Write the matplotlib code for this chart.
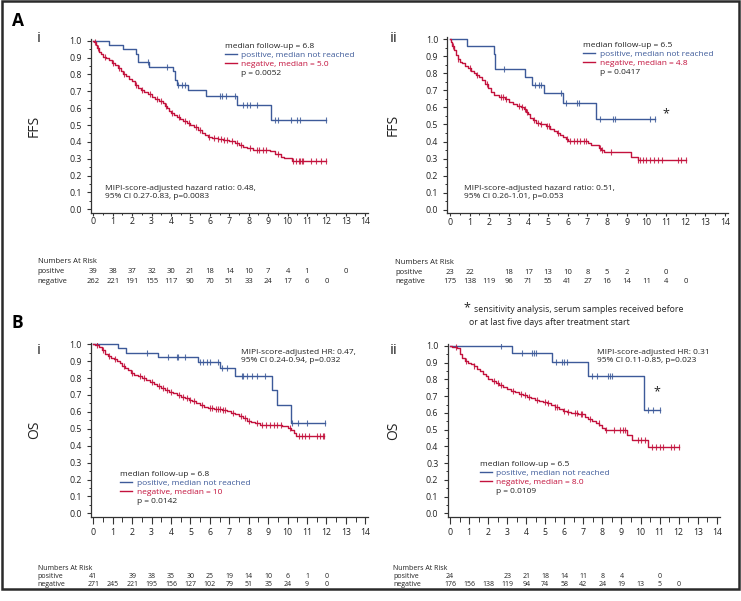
import numpy as np
import matplotlib
matplotlib.use("Agg")
import matplotlib.pyplot as plt
from matplotlib.lines import Line2D
from matplotlib.patches import Rectangle
from matplotlib.transforms import blended_transform_factory

plt.rcParams['font.family'] = ['Open Sans', 'DejaVu Sans']

W, H = 741, 601
BLUE = '#3d5a99'
RED = '#c3123d'
AXC = '#333333'
TXT = '#222222'
FS = 6.0

# ---------------- data ----------------
years = list(range(0, 15))

# Panel A i (FFS)
ai_pos_t = [0.82, 1.55, 2.22, 2.30, 2.88, 4.12, 4.22, 4.32, 4.88, 5.78, 7.38, 9.15]
ai_pos_s = [0.974, 0.949, 0.923, 0.872, 0.846, 0.82, 0.765, 0.74, 0.706, 0.67, 0.62, 0.53]
ai_pos_c = [2.8, 3.81, 4.37, 4.58, 4.72, 6.52, 6.6, 6.81, 7.29, 7.72, 7.89, 8.06, 8.4,
            9.35, 9.49, 10.2, 10.46, 10.63, 11.97]
ai_neg_t = [0.05, 0.12, 0.2, 0.3, 0.4, 0.5, 0.65, 0.8, 0.95, 1.1, 1.25, 1.4, 1.55, 1.7, 1.85,
            2.0, 2.15, 2.3, 2.45, 2.6, 2.8, 3.0, 3.2, 3.4, 3.6, 3.7, 3.8, 3.9, 4.0, 4.15, 4.3,
            4.45, 4.6, 4.8, 5.0, 5.2, 5.4, 5.6, 5.75, 5.9, 6.1, 6.4, 6.7, 7.0, 7.3, 7.5, 7.7,
            7.9, 8.2, 9.1, 9.35, 9.65, 9.8, 10.25]
ai_neg_s = [0.99, 0.975, 0.955, 0.935, 0.92, 0.905, 0.895, 0.883, 0.868, 0.855, 0.84, 0.82,
            0.805, 0.79, 0.773, 0.76, 0.737, 0.72, 0.708, 0.698, 0.683, 0.668, 0.655, 0.645,
            0.632, 0.615, 0.6, 0.585, 0.572, 0.558, 0.545, 0.533, 0.522, 0.51, 0.5, 0.488,
            0.472, 0.455, 0.44, 0.43, 0.423, 0.417, 0.41, 0.403, 0.393, 0.38, 0.37, 0.365,
            0.352, 0.345, 0.328, 0.312, 0.305, 0.288]
ai_neg_c = [0.1, 0.25, 0.6, 1.0, 1.3, 1.6, 2.2, 2.5, 2.9, 3.3, 3.5, 3.75, 4.05, 4.4, 4.7, 4.9,
            5.3, 5.5, 5.95, 6.2, 6.4, 6.55, 6.75, 6.9, 7.15, 7.4, 7.6, 8.05, 8.4, 8.55, 8.75,
            8.9, 9.5, 10.3, 10.45, 10.6, 10.65, 10.75, 10.8, 11.2, 11.45, 11.7, 12.0]
ai_pos_risk = [39, 38, 37, 32, 30, 21, 18, 14, 10, 7, 4, 1, None, 0]
ai_neg_risk = [262, 221, 191, 155, 117, 90, 70, 51, 33, 24, 17, 6, 0]

# Panel A ii (FFS, sensitivity)
aii_pos_t = [0.85, 2.22, 2.30, 3.83, 4.17, 4.78, 5.75, 7.42]
aii_pos_s = [0.957, 0.913, 0.826, 0.78, 0.733, 0.685, 0.624, 0.535]
aii_pos_c = [2.75, 4.35, 4.55, 4.65, 5.65, 5.9, 6.45, 6.55, 7.65, 8.3, 8.4, 10.2, 10.45]
aii_neg_t = [0.05, 0.12, 0.2, 0.3, 0.4, 0.5, 0.6, 0.75, 0.9, 1.05, 1.2, 1.35, 1.5, 1.65, 1.8,
             1.95, 2.1, 2.25, 2.5, 2.8, 3.0, 3.2, 3.4, 3.6, 3.75, 3.85, 3.95, 4.1, 4.25, 4.4,
             4.6, 4.9, 5.1, 5.3, 5.45, 5.6, 5.75, 5.9, 6.0, 7.05, 7.2, 7.6, 7.7, 7.85, 9.2, 9.55]
aii_neg_s = [0.985, 0.96, 0.935, 0.905, 0.885, 0.868, 0.858, 0.845, 0.832, 0.815, 0.8, 0.79,
             0.775, 0.758, 0.735, 0.712, 0.692, 0.672, 0.66, 0.648, 0.632, 0.617, 0.61, 0.6,
             0.588, 0.575, 0.56, 0.54, 0.525, 0.51, 0.5, 0.49, 0.475, 0.46, 0.448, 0.437,
             0.425, 0.418, 0.405, 0.39, 0.38, 0.36, 0.35, 0.34, 0.31, 0.29]
aii_neg_c = [0.15, 0.4, 1.0, 1.4, 1.9, 2.6, 2.7, 2.85, 3.5, 3.65, 3.8, 3.9, 4.3, 4.5, 4.65,
             4.95, 5.05, 5.5, 5.95, 6.1, 6.3, 6.45, 6.6, 6.8, 6.95, 7.65, 7.75, 8.2, 9.55, 9.7,
             9.85, 10.0, 10.2, 10.4, 10.6, 10.8, 11.6, 11.75, 12.0]
aii_pos_risk = [23, 22, None, 18, 17, 13, 10, 8, 5, 2, None, 0]
aii_neg_risk = [175, 138, 119, 96, 71, 55, 41, 27, 16, 14, 11, 4, 0]

# Panel B i (OS)
bi_pos_t = [1.25, 1.68, 3.31, 5.4, 6.52, 7.29, 9.18, 9.47, 10.17]
bi_pos_s = [0.976, 0.95, 0.923, 0.893, 0.857, 0.81, 0.73, 0.64, 0.535]
bi_pos_c = [2.74, 3.86, 4.29, 4.37, 4.72, 5.49, 5.66, 5.83, 6.0, 6.43, 6.6, 6.86, 7.63, 7.72,
            7.89, 8.15, 8.4, 8.83, 10.24, 10.55, 10.98, 11.92]
bi_neg_t = [0.1, 0.3, 0.45, 0.6, 0.75, 0.9, 1.05, 1.2, 1.35, 1.5, 1.65, 1.8, 1.95, 2.1, 2.3,
            2.5, 2.7, 2.9, 3.1, 3.3, 3.5, 3.7, 3.9, 4.1, 4.3, 4.5, 4.7, 4.9, 5.1, 5.3, 5.5,
            5.7, 5.9, 6.2, 6.6, 6.9, 7.1, 7.3, 7.5, 7.7, 7.9, 8.1, 8.3, 8.6, 9.7, 10.0, 10.2,
            10.35, 10.45]
bi_neg_s = [0.995, 0.985, 0.965, 0.945, 0.93, 0.92, 0.912, 0.9, 0.888, 0.872, 0.858, 0.845,
            0.832, 0.82, 0.81, 0.8, 0.79, 0.776, 0.766, 0.755, 0.742, 0.732, 0.72, 0.71,
            0.698, 0.69, 0.68, 0.672, 0.665, 0.652, 0.638, 0.628, 0.622, 0.615, 0.612, 0.605,
            0.595, 0.585, 0.575, 0.562, 0.548, 0.54, 0.535, 0.525, 0.515, 0.505, 0.49, 0.475,
            0.455]
bi_neg_c = [0.2, 0.5, 0.8, 1.1, 1.6, 2.0, 2.4, 2.6, 3.0, 3.4, 3.6, 3.8, 4.0, 4.4, 4.6, 4.8,
            5.0, 5.2, 5.6, 6.0, 6.1, 6.3, 6.4, 6.5, 6.7, 6.8, 7.2, 7.6, 7.8, 8.0, 8.4, 8.7,
            8.9, 9.1, 9.3, 9.45, 9.65, 10.15, 10.6, 10.75, 10.9, 11.1, 11.5, 11.65, 11.8, 11.9]
bi_pos_risk = [41, None, 39, 38, 35, 30, 25, 19, 14, 10, 6, 1, 0]
bi_neg_risk = [271, 245, 221, 195, 156, 127, 102, 79, 51, 35, 24, 9, 0]

# Panel B ii (OS, sensitivity)
bii_pos_t = [3.27, 5.37, 7.26, 10.2]
bii_pos_s = [0.957, 0.903, 0.82, 0.615]
bii_pos_c = [2.68, 3.8, 4.32, 4.43, 4.5, 5.55, 5.86, 6.0, 6.12, 7.44, 7.7, 8.31, 8.4, 8.49,
             10.41, 10.67, 11.02]
bii_neg_t = [0.1, 0.36, 0.52, 0.62, 0.78, 0.93, 1.09, 1.25, 1.4, 1.56, 1.71, 1.87, 2.02, 2.18,
             2.39, 2.59, 2.8, 3.01, 3.22, 3.42, 3.63, 3.84, 4.05, 4.25, 4.46, 4.67, 4.88, 5.08,
             5.29, 5.5, 5.71, 5.91, 6.12, 6.33, 6.74, 7.06, 7.26, 7.47, 7.68, 7.83, 7.99, 8.15,
             9.27, 9.54, 10.41]
bii_neg_s = [0.995, 0.985, 0.955, 0.93, 0.91, 0.9, 0.89, 0.878, 0.865, 0.85, 0.835, 0.82,
             0.805, 0.79, 0.78, 0.768, 0.755, 0.742, 0.732, 0.725, 0.715, 0.705, 0.695, 0.687,
             0.68, 0.673, 0.666, 0.658, 0.648, 0.635, 0.622, 0.612, 0.605, 0.598, 0.592,
             0.575, 0.562, 0.55, 0.54, 0.525, 0.51, 0.495, 0.468, 0.44, 0.395]
bii_neg_c = [0.3, 0.85, 1.25, 2.3, 2.5, 2.7, 3.3, 3.75, 3.95, 4.15, 4.55, 5.0, 5.15, 5.5, 5.6,
             6.0, 6.2, 6.55, 6.65, 6.85, 6.95, 7.35, 7.8, 8.2, 8.6, 8.9, 9.1, 9.2, 9.85, 10.05,
             10.25, 10.6, 10.8, 11.0, 11.2, 11.6, 11.75, 12.0]
bii_pos_risk = [24, None, None, 23, 21, 18, 14, 11, 8, 4, None, 0]
bii_neg_risk = [176, 156, 138, 119, 94, 74, 58, 42, 24, 19, 13, 5, 0]

# ---------------- figure ----------------
fig = plt.figure(figsize=(W / 100, H / 100), dpi=100)
fig.patch.set_facecolor('white')


def px_axes(left, right, top, bottom):
    ax = fig.add_axes([left / W, 1 - bottom / H, (right - left) / W, (bottom - top) / H])
    ax._px = (left, right)
    return ax


def draw_curve(ax, t, s, c, color):
    t = np.asarray(t, float)
    s = np.asarray(s, float)
    c = np.asarray(c, float)
    end = max(c.max(), t.max())
    xs = np.r_[0.0, t, end]
    ys = np.r_[1.0, s, s[-1]]
    ax.step(xs, ys, where='post', color=color, lw=1.0, zorder=3)
    idx = np.searchsorted(t, c, side='right')
    cy = np.r_[1.0, s][idx]
    ax.plot(c, cy, ls='none', marker='|', ms=4.5, mew=0.8, color=color, alpha=0.85, zorder=4)


def style_axes(ax, ylabel, ylabel_px, xtick_len, xpad):
    ax.set_xlim(-0.13, 14.15)
    ax.set_ylim(-0.02, 1.01)
    for sp in ['top', 'right']:
        ax.spines[sp].set_visible(False)
    for sp in ['left', 'bottom']:
        ax.spines[sp].set_color(AXC)
        ax.spines[sp].set_linewidth(0.9)
    ax.set_xticks(years)
    ax.set_xticks(np.arange(0.5, 14.5, 1.0), minor=True)
    ax.set_yticks(np.round(np.arange(0, 1.01, 0.1), 1))
    ax.set_yticks(np.arange(0.05, 1.0, 0.1), minor=True)
    ax.set_yticklabels([f'{v:.1f}' for v in np.arange(0, 1.01, 0.1)])
    ax.tick_params(axis='x', which='major', length=xtick_len, width=0.8, color=AXC,
                   labelsize=6.3, pad=xpad, labelcolor=TXT)
    ax.tick_params(axis='x', which='minor', length=xtick_len * 0.7, width=0.7, color=AXC)
    ax.tick_params(axis='y', which='major', length=2.6, width=0.8, color=AXC,
                   labelsize=6.3, pad=4.0, labelcolor=TXT)
    ax.tick_params(axis='y', which='minor', length=1.6, width=0.7, color=AXC)
    ax.set_ylabel(ylabel, fontsize=10, color=TXT, va='center')
    left, right = ax._px
    ax.yaxis.set_label_coords((ylabel_px - left) / (right - left), 0.5)


def km_legend(ax, x, y, fu, neg, p):
    handles = [Line2D([], [], color=BLUE, lw=1.0), Line2D([], [], color=RED, lw=1.0),
               Line2D([], [], color='none')]
    labels = ['positive, median not reached', neg, p]
    leg = ax.legend(handles, labels, title=fu, loc='upper left', bbox_to_anchor=(x, y),
                    bbox_transform=ax.transData, frameon=False, fontsize=FS,
                    title_fontsize=FS, handlelength=1.45, handletextpad=0.5,
                    labelspacing=0.12, borderpad=0, borderaxespad=0, alignment='left',
                    labelcolor=[BLUE, RED, TXT])
    leg.get_title().set_color(TXT)
    return leg


def risk_table(ax, xlabel_px, ys_px, pos, neg, fs):
    tr = blended_transform_factory(ax.transData, fig.transFigure)
    for txt, ypx in zip(['Numbers At Risk', 'positive', 'negative'], ys_px):
        fig.text(xlabel_px / W, 1 - ypx / H, txt, fontsize=fs, va='center', ha='left',
                 color=TXT)
    for row, ypx in ((pos, ys_px[1]), (neg, ys_px[2])):
        for yr, v in zip(years, row):
            if v is None:
                continue
            ax.text(yr, 1 - ypx / H, str(v), transform=tr, fontsize=fs, ha='center',
                    va='center', color=TXT, clip_on=False)


# Panel A i
ax1 = px_axes(90.8, 368.2, 39.0, 212.7)
draw_curve(ax1, ai_pos_t, ai_pos_s, ai_pos_c, BLUE)
draw_curve(ax1, ai_neg_t, ai_neg_s, ai_neg_c, RED)
style_axes(ax1, 'FFS', 34.3, 2.2, 1.2)
km_legend(ax1, 6.79, 0.985, 'median follow-up = 6.8', 'negative, median = 5.0', 'p = 0.0052')
ax1.text(0.62, 0.10, 'MIPI-score-adjusted hazard ratio: 0.48,\n95% CI 0.27-0.83, p=0.0083',
         fontsize=FS, va='center', ha='left', linespacing=1.2, color=TXT)
risk_table(ax1, 37.7, (261.7, 271.7, 281.7), ai_pos_risk, ai_neg_risk, 5.5)

# Panel A ii
ax2 = px_axes(447.4, 727.9, 37.3, 213.4)
draw_curve(ax2, aii_pos_t, aii_pos_s, aii_pos_c, BLUE)
draw_curve(ax2, aii_neg_t, aii_neg_s, aii_neg_c, RED)
style_axes(ax2, 'FFS', 393.3, 2.2, 1.2)
km_legend(ax2, 6.79, 0.98, 'median follow-up = 6.5', 'negative, median = 4.8', 'p = 0.0417')
ax2.text(0.73, 0.104, 'MIPI-score-adjusted hazard ratio: 0.51,\n95% CI 0.26-1.01, p=0.053',
         fontsize=FS, va='center', ha='left', linespacing=1.2, color=TXT)
ax2.text(11.0, 0.565, '*', fontsize=9, ha='center', va='center', color=TXT)
risk_table(ax2, 395, (262.3, 272.3, 281.7), aii_pos_risk, aii_neg_risk, 5.5)

# Panel B i
ax3 = px_axes(90.8, 368.2, 342.6, 516.7)
draw_curve(ax3, bi_pos_t, bi_pos_s, bi_pos_c, BLUE)
draw_curve(ax3, bi_neg_t, bi_neg_s, bi_neg_c, RED)
style_axes(ax3, 'OS', 34.3, 5.0, 3.0)
km_legend(ax3, 1.39, 0.25, 'median follow-up = 6.8', 'negative, median = 10', 'p = 0.0142')
ax3.text(7.6, 0.93, 'MIPI-score-adjusted HR: 0.47,\n95% CI 0.24-0.94, p=0.032',
         fontsize=FS, va='center', ha='left', linespacing=1.2, color=TXT)
risk_table(ax3, 37.7, (569, 577, 585), bi_pos_risk, bi_neg_risk, 5.0)

# Panel B ii
ax4 = px_axes(447.5, 719.6, 344.3, 516.6)
draw_curve(ax4, bii_pos_t, bii_pos_s, bii_pos_c, BLUE)
draw_curve(ax4, bii_neg_t, bii_neg_s, bii_neg_c, RED)
style_axes(ax4, 'OS', 393.3, 5.0, 3.0)
km_legend(ax4, 1.57, 0.31, 'median follow-up = 6.5', 'negative, median = 8.0', 'p = 0.0109')
ax4.text(7.7, 0.936, 'MIPI-score-adjusted HR: 0.31\n95% CI 0.11-0.85, p=0.023',
         fontsize=FS, va='center', ha='left', linespacing=1.2, color=TXT)
ax4.text(10.85, 0.727, '*', fontsize=9, ha='center', va='center', color=TXT)
risk_table(ax4, 393, (569, 577, 585), bii_pos_risk, bii_neg_risk, 5.0)

# Footnote
fig.text(466.7 / W, 1 - 308 / H, '*', fontsize=9, ha='center', va='center', color=TXT)
fig.text(474.3 / W, 1 - 310 / H, 'sensitivity analysis, serum samples received before',
         fontsize=6.3, ha='left', va='center', color=TXT)
fig.text(469.3 / W, 1 - 322.7 / H, 'or at last five days after treatment start',
         fontsize=6.3, ha='left', va='center', color=TXT)

# Panel labels
fig.text(18 / W, 1 - 21 / H, 'A', fontsize=12.5, fontweight='bold', ha='center', va='center')
fig.text(17 / W, 1 - 323 / H, 'B', fontsize=12.5, fontweight='bold', ha='center', va='center')
fig.text(38.3 / W, 1 - 38 / H, 'i', fontsize=11, ha='center', va='center', color=TXT)
fig.text(394 / W, 1 - 38 / H, 'ii', fontsize=11, ha='center', va='center', color=TXT)
fig.text(38.3 / W, 1 - 350 / H, 'i', fontsize=11, ha='center', va='center', color=TXT)
fig.text(394 / W, 1 - 350 / H, 'ii', fontsize=11, ha='center', va='center', color=TXT)

# Outer frame
fig.add_artist(Rectangle((1.5 / W, 1 - 589 / H), (739 - 1.5) / W, (589 - 1) / H,
                         transform=fig.transFigure, fill=False, lw=1.8, ec='#2a2a2a'))

fig.savefig('out.png', dpi=100, facecolor='white')
